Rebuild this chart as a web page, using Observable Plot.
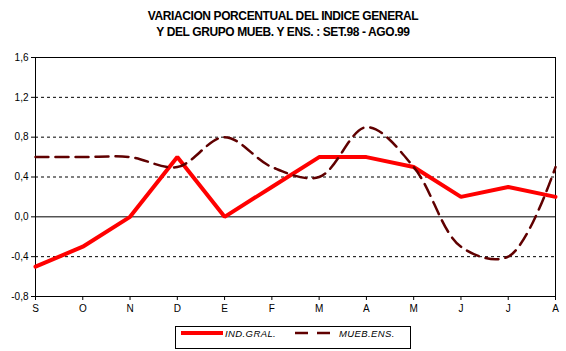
<!DOCTYPE html>
<html><head><meta charset="utf-8">
<script src="https://cdn.jsdelivr.net/npm/d3@7"></script>
<script src="https://cdn.jsdelivr.net/npm/@observablehq/plot@0.6"></script>
<style>
body{margin:0;background:#fff;font-family:"Liberation Sans",Arial,sans-serif;}
#wrap{width:566px;height:351px;position:relative;overflow:hidden;}
#title{position:absolute;top:8px;left:0;width:566px;text-align:center;font-weight:bold;font-size:12px;line-height:16px;color:#000;letter-spacing:-0.4px;}
#chart{position:absolute;top:48px;left:0;}
#legend{position:absolute;left:175px;top:326px;width:236px;height:23px;border:1px solid #000;background:#fff;box-sizing:border-box;font-size:9.5px;font-style:italic;letter-spacing:0.4px;}
#legend svg{position:absolute;left:-1px;top:-1px;}
#legend span{position:absolute;top:1px;line-height:12px;}
</style></head>
<body>
<div id="wrap">
<div id="title">VARIACION PORCENTUAL DEL INDICE GENERAL<br>Y DEL GRUPO MUEB. Y ENS. : SET.98 - AGO.99</div>
<div id="chart"></div>
<div id="legend">
<svg width="236" height="23">
<line x1="6" x2="48" y1="7" y2="7" stroke="#ff0000" stroke-width="4"/>
<line x1="120" x2="156" y1="7" y2="7" stroke="#600000" stroke-width="2.5" stroke-dasharray="13,9"/>
</svg>
<span style="left:49px">IND.GRAL.</span>
<span style="left:163px">MUEB.ENS.</span>
</div>
</div>
<script>
const months = ["S","O","N","D","E","F","M","A","M","J","J","A"];
const indGral = [-0.5,-0.3,0.0,0.6,0.0,0.3,0.6,0.6,0.5,0.2,0.3,0.2];
const muebEns = [0.6,0.6,0.6,0.5,0.8,0.5,0.4,0.9,0.5,-0.3,-0.4,0.5];
const yTicks = [-0.8,-0.4,0,0.4,0.8,1.2,1.6];
const gridVals = [-0.4,0.4,0.8,1.2];

const data = months.map((m,i)=>({i, ind:indGral[i], mueb:muebEns[i]}));

const chart = Plot.plot({
  width:566, height:272,
  marginLeft:35, marginRight:11, marginTop:9, marginBottom:24,
  style:{fontFamily:"Liberation Sans, Arial, sans-serif", fontSize:"10px", background:"#fff", color:"#000"},
  x:{domain:[0,11]},
  y:{domain:[-0.8,1.6]},
  marks:[
    Plot.ruleY(gridVals,{stroke:"#000",strokeDasharray:"3,3",strokeWidth:1}),
    Plot.ruleY([0,1.6,-0.8],{stroke:"#000",strokeWidth:1}),
    Plot.ruleX([0,11],{stroke:"#000",strokeWidth:1}),
    Plot.line(data,{x:"i",y:"ind",stroke:"#ff0000",strokeWidth:4,strokeLinejoin:"miter"}),
    Plot.line(data,{x:"i",y:"mueb",curve:"catmull-rom",stroke:"#600000",strokeWidth:2.5,strokeDasharray:"13,7"}),
    Plot.axisX({ticks:d3.range(12), tickFormat:i=>months[i], tickSize:4, tickPadding:4, label:null}),
    Plot.axisY({ticks:yTicks, tickFormat:d=>d.toFixed(1).replace(".",","), tickSize:4, tickPadding:3, label:null})
  ]
});
document.getElementById("chart").appendChild(chart);
</script>
</body></html>
